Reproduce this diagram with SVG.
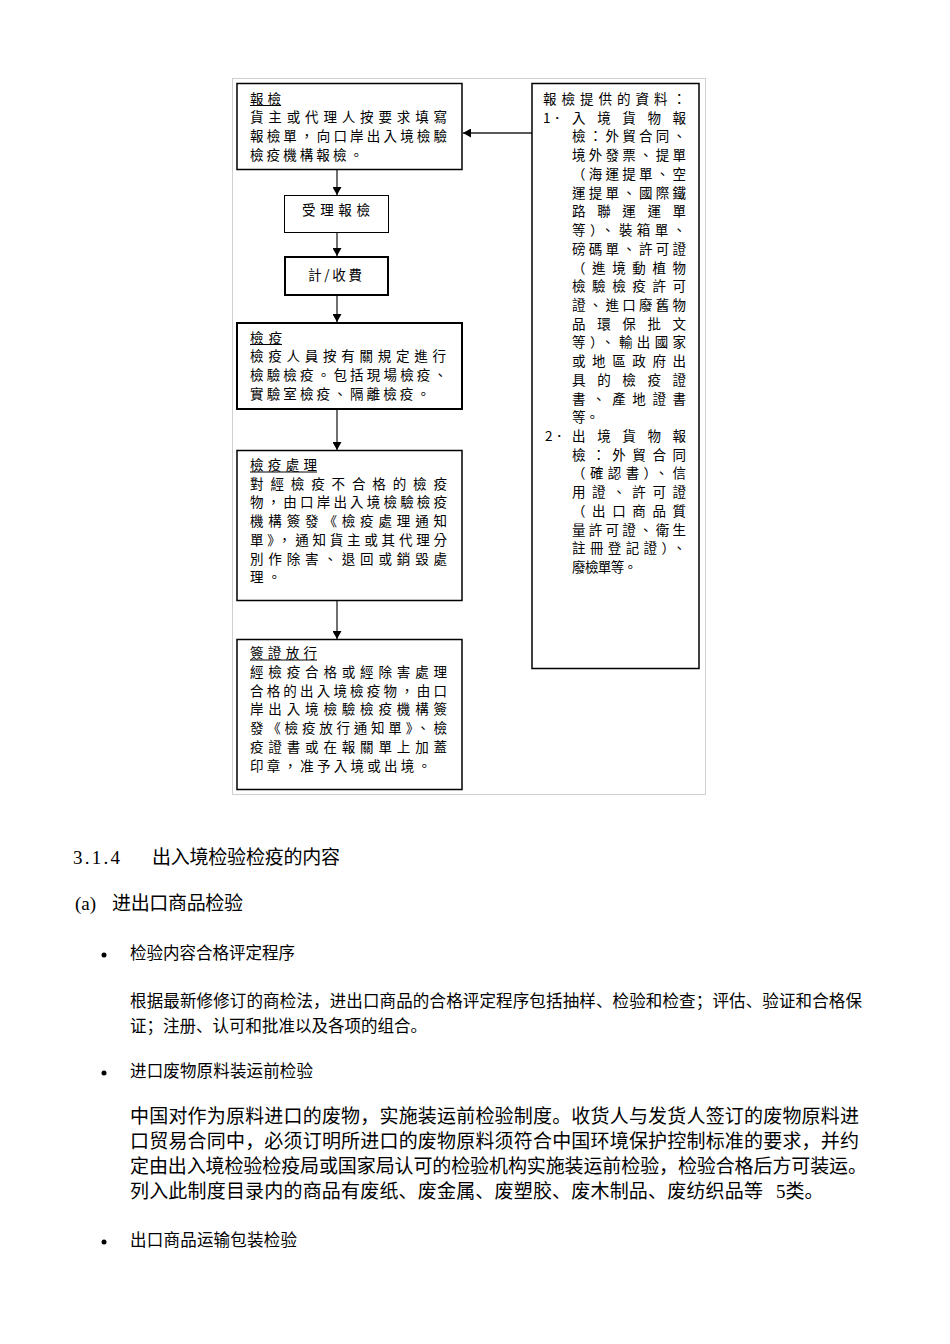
<svg xmlns="http://www.w3.org/2000/svg" width="950" height="1344" viewBox="0 0 950 1344">
<style>
.fc{font-family:"Noto Sans CJK TC","Noto Sans CJK SC",sans-serif;font-size:13.5px;fill:#000}
.box{fill:#fff;stroke:#000}
.ul{stroke:#000;stroke-width:1}
.conn{stroke:#222;stroke-width:1.3;fill:none}
.doc{font-family:"Liberation Serif","Noto Sans CJK SC",serif;fill:#000}
</style>
<defs>
<marker id="ah" markerUnits="userSpaceOnUse" markerWidth="9" markerHeight="9" refX="8" refY="4.5" orient="auto">
<path d="M0,0 L8,4.5 L0,9 z" fill="#000"/>
</marker>
</defs>
<rect width="950" height="1344" fill="#fff"/>
<rect x="232.5" y="78.5" width="473" height="716" fill="none" stroke="#d0d0d0" stroke-width="1"/>

<g id="connectors">
<line class="conn" x1="337" y1="170" x2="337" y2="195" marker-end="url(#ah)"/>
<line class="conn" x1="337" y1="233" x2="337" y2="256" marker-end="url(#ah)"/>
<line class="conn" x1="337" y1="296" x2="337" y2="322" marker-end="url(#ah)"/>
<line class="conn" x1="337" y1="410" x2="337" y2="450" marker-end="url(#ah)"/>
<line class="conn" x1="337" y1="601" x2="337" y2="639" marker-end="url(#ah)"/>
<line class="conn" x1="532" y1="133" x2="463" y2="133" marker-end="url(#ah)"/>
</g>

<g id="node-baojian">
<rect class="box" x="237" y="83.5" width="225" height="86" stroke-width="1.5"/>
<text class="fc" x="250" y="103.5" textLength="31" lengthAdjust="spacing">報檢</text>
<line class="ul" x1="250" y1="105.5" x2="281" y2="105.5"/>
<text class="fc" x="250" y="122.2" textLength="197" lengthAdjust="spacing">貨主或代理人按要求填寫</text>
<text class="fc" x="250" y="140.9" textLength="197" lengthAdjust="spacing">報檢單，向口岸出入境檢驗</text>
<text class="fc" x="250" y="159.6" textLength="113" lengthAdjust="spacing">檢疫機構報檢。</text>
</g>

<g id="node-shouli">
<rect class="box" x="284.5" y="195.5" width="104" height="37" stroke-width="1"/>
<text class="fc" x="302" y="215" textLength="68" lengthAdjust="spacing">受理報檢</text>
</g>

<g id="node-shoufei">
<rect class="box" x="285" y="257" width="103" height="38" stroke-width="2"/>
<text class="fc" x="308" y="280" textLength="54" lengthAdjust="spacing">計/收費</text>
</g>

<g id="node-jianyi">
<rect class="box" x="237" y="323" width="225" height="86" stroke-width="2"/>
<text class="fc" x="250" y="342.5" textLength="32" lengthAdjust="spacing">檢疫</text>
<line class="ul" x1="250" y1="344.5" x2="282" y2="344.5"/>
<text class="fc" x="250" y="361.3" textLength="196" lengthAdjust="spacing">檢疫人員按有關規定進行</text>
<text class="fc" x="250" y="380.1" textLength="197" lengthAdjust="spacing">檢驗檢疫。包括現場檢疫、</text>
<text class="fc" x="250" y="398.9" textLength="180" lengthAdjust="spacing">實驗室檢疫、隔離檢疫。</text>
</g>

<g id="node-chuli">
<rect class="box" x="237" y="450.5" width="225" height="150" stroke-width="1.5"/>
<text class="fc" x="250" y="470" textLength="67" lengthAdjust="spacing">檢疫處理</text>
<line class="ul" x1="250" y1="472" x2="317" y2="472"/>
<text class="fc" x="250" y="488.7" textLength="197" lengthAdjust="spacing">對經檢疫不合格的檢疫</text>
<text class="fc" x="250" y="507.4" textLength="197" lengthAdjust="spacing">物，由口岸出入境檢驗檢疫</text>
<text class="fc" x="250" y="526.1" textLength="197" lengthAdjust="spacing">機構簽發《檢疫處理通知</text>
<text class="fc" x="250" y="544.8" textLength="197" lengthAdjust="spacing">單》，通知貨主或其代理分</text>
<text class="fc" x="250" y="563.5" textLength="197" lengthAdjust="spacing">別作除害、退回或銷毀處</text>
<text class="fc" x="250" y="582.2" textLength="31" lengthAdjust="spacing">理。</text>
</g>

<g id="node-fangxing">
<rect class="box" x="237" y="639.5" width="225" height="150" stroke-width="1.5"/>
<text class="fc" x="250" y="658" textLength="67" lengthAdjust="spacing">簽證放行</text>
<line class="ul" x1="250" y1="660" x2="317" y2="660"/>
<text class="fc" x="250" y="676.8" textLength="197" lengthAdjust="spacing">經檢疫合格或經除害處理</text>
<text class="fc" x="250" y="695.6" textLength="197" lengthAdjust="spacing">合格的出入境檢疫物，由口</text>
<text class="fc" x="250" y="714.4" textLength="197" lengthAdjust="spacing">岸出入境檢驗檢疫機構簽</text>
<text class="fc" x="250" y="733.2" textLength="197" lengthAdjust="spacing">發《檢疫放行通知單》、檢</text>
<text class="fc" x="250" y="752" textLength="197" lengthAdjust="spacing">疫證書或在報關單上加蓋</text>
<text class="fc" x="250" y="770.8" textLength="181" lengthAdjust="spacing">印章，准予入境或出境。</text>
</g>

<g id="node-ziliao">
<rect class="box" x="532" y="83.5" width="167" height="585" stroke-width="1.5"/>
<text class="fc" x="543" y="104" textLength="143" lengthAdjust="spacing">報檢提供的資料：</text>
<text class="fc" x="543" y="122.7">1．</text>
<text class="fc" x="572" y="122.7" textLength="114" lengthAdjust="spacing">入境貨物報</text>
<text class="fc" x="572" y="141.4" textLength="114" lengthAdjust="spacing">檢：外貿合同、</text>
<text class="fc" x="572" y="160.2" textLength="114" lengthAdjust="spacing">境外發票、提單</text>
<text class="fc" x="572" y="178.9" textLength="114" lengthAdjust="spacing">（海運提單、空</text>
<text class="fc" x="572" y="197.6" textLength="114" lengthAdjust="spacing">運提單、國際鐵</text>
<text class="fc" x="572" y="216.3" textLength="114" lengthAdjust="spacing">路聯運運單</text>
<text class="fc" x="572" y="235" textLength="114" lengthAdjust="spacing">等）、裝箱單、</text>
<text class="fc" x="572" y="253.8" textLength="114" lengthAdjust="spacing">磅碼單、許可證</text>
<text class="fc" x="572" y="272.5" textLength="114" lengthAdjust="spacing">（進境動植物</text>
<text class="fc" x="572" y="291.2" textLength="114" lengthAdjust="spacing">檢驗檢疫許可</text>
<text class="fc" x="572" y="309.9" textLength="114" lengthAdjust="spacing">證、進口廢舊物</text>
<text class="fc" x="572" y="328.6" textLength="114" lengthAdjust="spacing">品環保批文</text>
<text class="fc" x="572" y="347.4" textLength="114" lengthAdjust="spacing">等）、輸出國家</text>
<text class="fc" x="572" y="366.1" textLength="114" lengthAdjust="spacing">或地區政府出</text>
<text class="fc" x="572" y="384.8" textLength="114" lengthAdjust="spacing">具的檢疫證</text>
<text class="fc" x="572" y="403.5" textLength="114" lengthAdjust="spacing">書、產地證書</text>
<text class="fc" x="572" y="422.2">等。</text>
<text class="fc" x="545" y="441">2．</text>
<text class="fc" x="572" y="441" textLength="114" lengthAdjust="spacing">出境貨物報</text>
<text class="fc" x="572" y="459.7" textLength="114" lengthAdjust="spacing">檢：外貿合同</text>
<text class="fc" x="572" y="478.4" textLength="114" lengthAdjust="spacing">（確認書）、信</text>
<text class="fc" x="572" y="497.1" textLength="114" lengthAdjust="spacing">用證、許可證</text>
<text class="fc" x="572" y="515.8" textLength="114" lengthAdjust="spacing">（出口商品質</text>
<text class="fc" x="572" y="534.6" textLength="114" lengthAdjust="spacing">量許可證、衛生</text>
<text class="fc" x="572" y="553.3" textLength="114" lengthAdjust="spacing">註冊登記證）、</text>
<text class="fc" x="572" y="572" textLength="65" lengthAdjust="spacing">廢檢單等。</text>
</g>

<g id="body-text">
<text class="doc" x="73" y="864" font-size="19" textLength="47" lengthAdjust="spacing">3.1.4</text>
<text class="doc" x="152" y="864" font-size="19" textLength="188" lengthAdjust="spacing">出入境检验检疫的内容</text>
<text class="doc" x="75" y="910" font-size="19">(a)</text>
<text class="doc" x="112" y="910" font-size="19" textLength="131" lengthAdjust="spacing">进出口商品检验</text>
<circle cx="104" cy="955" r="2.5" fill="#000"/>
<text class="doc" x="130" y="959" font-size="16.5" textLength="165" lengthAdjust="spacing">检验内容合格评定程序</text>
<text class="doc" x="130" y="1007" font-size="16.5" textLength="732" lengthAdjust="spacing">根据最新修修订的商检法，进出口商品的合格评定程序包括抽样、检验和检查；评估、验证和合格保</text>
<text class="doc" x="130" y="1032" font-size="16.5">证；注册、认可和批准以及各项的组合。</text>
<circle cx="104" cy="1073" r="2.5" fill="#000"/>
<text class="doc" x="130" y="1077" font-size="16.5" textLength="183" lengthAdjust="spacing">进口废物原料装运前检验</text>
<text class="doc" x="130" y="1123" font-size="19" textLength="729" lengthAdjust="spacing">中国对作为原料进口的废物，实施装运前检验制度。收货人与发货人签订的废物原料进</text>
<text class="doc" x="130" y="1148" font-size="19" textLength="729" lengthAdjust="spacing">口贸易合同中，必须订明所进口的废物原料须符合中国环境保护控制标准的要求，并约</text>
<text class="doc" x="130" y="1173" font-size="19" textLength="737" lengthAdjust="spacing">定由出入境检验检疫局或国家局认可的检验机构实施装运前检验，检验合格后方可装运。</text>
<text class="doc" x="130" y="1198" font-size="19" textLength="633" lengthAdjust="spacing">列入此制度目录内的商品有废纸、废金属、废塑胶、废木制品、废纺织品等</text>
<text class="doc" x="776" y="1198" font-size="19">5类。</text>
<circle cx="104" cy="1242" r="2.5" fill="#000"/>
<text class="doc" x="130" y="1246" font-size="16.5" textLength="167" lengthAdjust="spacing">出口商品运输包装检验</text>
</g>
</svg>
